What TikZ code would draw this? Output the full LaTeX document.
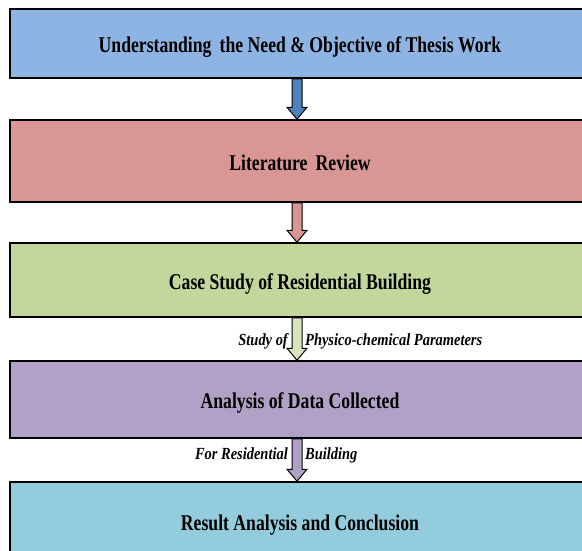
\documentclass[tikz,border=0pt]{standalone}
\usepackage{fontspec}
\setmainfont{Liberation Serif}
\newfontfamily\stepfont[FakeStretch=0.785]{Liberation Serif}
\newfontfamily\labelfont[FakeStretch=0.85]{Liberation Serif}
\usetikzlibrary{calc}
\definecolor{cBlue}{HTML}{8EB4E3}
\definecolor{cBlueArrow}{HTML}{4F81BD}
\definecolor{cRed}{HTML}{D99694}
\definecolor{cGreen}{HTML}{C3D69B}
\definecolor{cGreenArrow}{HTML}{D7E4BD}
\definecolor{cPurple}{HTML}{B2A1C7}
\definecolor{cCyan}{HTML}{93CDDD}
\begin{document}
\begin{tikzpicture}[x=1pt,y=-1pt,
  stepbox/.style={draw=black, line width=1.5pt, minimum width=580pt,
    inner sep=0pt, text height=18pt, text depth=0pt,
    font=\stepfont\fontsize{22.5}{27}\selectfont\bfseries},
  arrowline/.style={draw=black, line width=1pt, line join=miter},
  flowlabel/.style={inner sep=0pt, font=\labelfont\fontsize{17}{20}\selectfont\bfseries\itshape}]
  \useasboundingbox (0,0) rectangle (582,550);
  \clip (0,0) rectangle (582,550);
  \fill[white] (0,0) rectangle (582,550);

  % process steps
  \node[stepbox, fill=cBlue,   minimum height=69pt] (b1) at (300,43.5)
    {Understanding\, the Need \& Objective of Thesis Work};
  \node[stepbox, fill=cRed,    minimum height=82pt] (b2) at (300,161)
    {Literature\, Review};
  \node[stepbox, fill=cGreen,  minimum height=74pt] (b3) at (300,280)
    {Case Study of Residential Building};
  \node[stepbox, fill=cPurple, minimum height=77pt] (b4) at (300,399.5)
    {Analysis of Data Collected};
  \node[stepbox, fill=cCyan,   minimum height=78pt] (b5) at (300,521)
    {Result Analysis and Conclusion};

  % vertical axis of the block arrows
  \coordinate (axis) at (297,0);

  % block arrow between two steps: #1 from, #2 to, #3 fill
  \newcommand\blockarrow[3]{%
    \draw[arrowline, fill=#3]
      let \p1=(#1.south -| axis), \p2=(#2.north -| axis) in
      (\x1-5,\y1) -- (\x1+5,\y1) -- (\x1+5,\y2+12) -- (\x1+10,\y2+12)
      -- (\x1,\y2) -- (\x1-10,\y2+12) -- (\x1-5,\y2+12) -- cycle;}
  \blockarrow{b1}{b2}{cBlueArrow}
  \blockarrow{b2}{b3}{cRed}
  \blockarrow{b3}{b4}{cGreenArrow}
  \blockarrow{b4}{b5}{cPurple}

  % arrow labels
  \node[flowlabel, anchor=base east] (l1a) at (288,345.5) {Study of};
  \node[flowlabel, anchor=base west] (l1b) at (305,345.5) {Physico-chemical Parameters};
  \node[flowlabel, anchor=base east] (l2a) at (288,459) {For Residential};
  \node[flowlabel, anchor=base west] (l2b) at (305,459) {Building};
\end{tikzpicture}
\end{document}
